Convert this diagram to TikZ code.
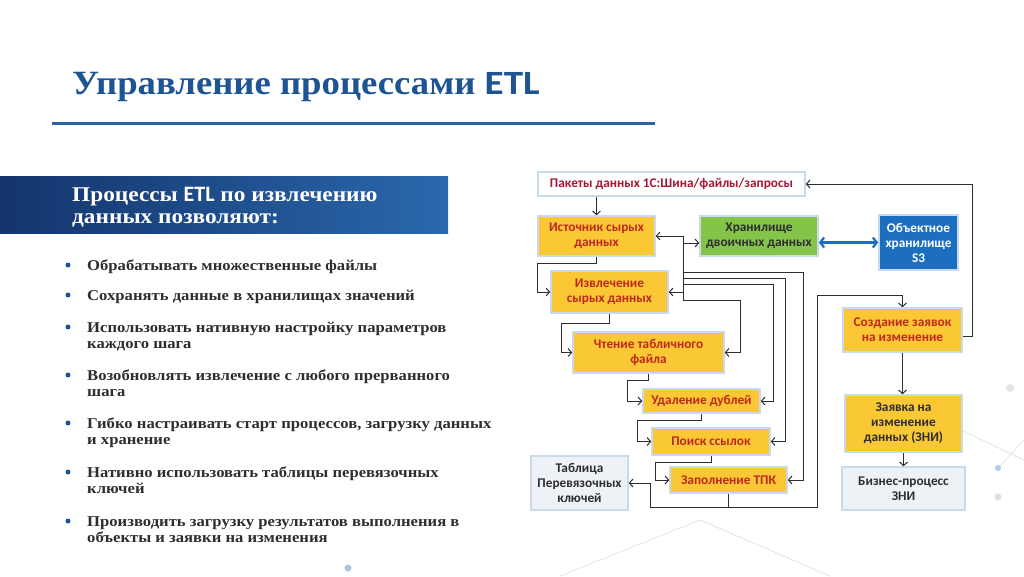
\documentclass[tikz,border=0pt]{standalone}
\usepackage{fontspec}
\setmainfont{Liberation Serif}[FakeStretch=1.11]
\newfontfamily\boxfont{Carlito}
\newfontfamily\ttlfont{Liberation Serif}[FakeStretch=1.08]
\newfontfamily\ttlsans{Carlito}[FakeStretch=1.15]
\usetikzlibrary{arrows.meta}
\usetikzlibrary{positioning}

\definecolor{ylw}{RGB}{250,200,52}
\definecolor{grn}{RGB}{132,196,72}
\definecolor{sblue}{RGB}{28,110,192}
\definecolor{lgray}{RGB}{238,241,246}
\definecolor{glow}{RGB}{200,218,236}
\definecolor{rtxt}{RGB}{190,40,30}
\definecolor{ptxt}{RGB}{170,20,55}
\definecolor{ttl}{RGB}{30,84,146}
\definecolor{uline}{RGB}{42,100,166}
\definecolor{bandl}{RGB}{20,52,108}
\definecolor{bandr}{RGB}{42,104,172}
\definecolor{btxt}{RGB}{45,45,50}
\definecolor{dkline}{RGB}{45,45,50}

\tikzstyle{blk}=[draw=glow, line width=1.6pt, align=center, inner sep=0pt,
                font=\boxfont\bfseries\fontsize{13.3}{15}\selectfont]
\tikzstyle{ybox}=[blk, fill=ylw, text=rtxt]
\tikzstyle{gbox}=[blk, fill=lgray, text=btxt]
\tikzstyle{arr}=[draw=dkline, line width=1pt,
                -{Straight Barb[length=3.5pt,width=8pt]}]
\tikzstyle{ln}=[draw=dkline, line width=1pt]
\tikzstyle{dbl}=[draw=sblue, line width=2.2pt,
                {Straight Barb[length=4pt,width=10pt]}-{Straight Barb[length=4pt,width=10pt]}]
\tikzstyle{bul}=[anchor=base west, align=left, inner sep=0pt, text=btxt,
                font=\bfseries\fontsize{15}{16.5}\selectfont]
\tikzstyle{dot}=[circle, fill=ttl, inner sep=0pt, minimum size=5pt]
\tikzstyle{bg}=[draw=gray!25, line width=0.6pt]

\begin{document}
\begin{tikzpicture}[x=1pt, y=-1pt]
  \path[use as bounding box, fill=white] (0,0) rectangle (1024,576);

  % faint background net
  \draw[bg] (560,576) -- (700,520) -- (830,576);
  \draw[bg] (940,420) -- (1024,460);
  \draw[bg] (998,468) -- (1024,440);
  \fill[gray!20] (1010,388) circle (4);
  \fill[gray!25] (998,497) circle (3.5);
  \fill[sblue!35] (998,468) circle (3);
  \fill[sblue!40] (348,568) circle (3.5);

  % title
  \node[anchor=base west, inner sep=0, text=ttl,
        font=\ttlfont\bfseries\fontsize{34}{36}\selectfont] (title) at (72,94)
        {Управление процессами {\ttlsans\fontsize{34}{36}\selectfont ETL}};
  \draw[draw=uline, line width=3pt] (52,123) -- (655,123);

  % banner
  \shade[left color=bandl, right color=bandr] (0,176) rectangle (448,233);
  \node[anchor=base west, align=left, inner sep=0, text=white,
        font=\bfseries\fontsize{21}{21.5}\selectfont] (head) at (72,223)
        {Процессы {\boxfont\fontsize{22}{21.5}\selectfont ETL} по извлечению\\данных позволяют:};

  % bullets (anchored at the last line)
  \node[bul] (b1) at (87,270) {Обрабатывать множественные файлы};
  \node[bul] (b2) at (87,300) {Сохранять данные в хранилищах значений};
  \node[bul] (b3) at (87,348.5) {Использовать нативную настройку параметров\\каждого шага};
  \node[bul] (b4) at (87,396.5) {Возобновлять извлечение с любого прерванного\\шага};
  \node[bul] (b5) at (87,444.5) {Гибко настраивать старт процессов, загрузку данных\\и хранение};
  \node[bul] (b6) at (87,493.5) {Нативно использовать таблицы перевязочных\\ключей};
  \node[bul] (b7) at (87,542.5) {Производить загрузку результатов выполнения в\\объекты и заявки на изменения};
  \foreach \y in {265,295,327,375,423,472,521}
    \node[dot] at (68,\y) {};

  % diagram boxes
  \node[blk, fill=white, text=ptxt, minimum width=267pt, minimum height=24pt]
        (pak) at (671.5,184) {Пакеты данных 1С:Шина/файлы/запросы};
  \node[ybox, minimum width=117pt, minimum height=40pt]
        (src) at (596.5,236) {Источник сырых\\данных};
  \node[blk, fill=grn, text=btxt, minimum width=118pt, minimum height=40pt]
        (hran) at (759,236) {Хранилище\\двоичных данных};
  \node[blk, fill=sblue, text=white, minimum width=79pt, minimum height=55pt]
        (s3) at (918.5,242.5) {Объектное\\хранилище\\S3};
  \node[ybox, minimum width=117pt, minimum height=42pt]
        (ext) at (609.5,292) {Извлечение\\сырых данных};
  \node[ybox, minimum width=151pt, minimum height=41pt]
        (read) at (648.5,352.5) {Чтение табличного\\файла};
  \node[ybox, minimum width=117pt, minimum height=24pt]
        (dedup) at (701.5,401) {Удаление дублей};
  \node[ybox, minimum width=118pt, minimum height=27pt]
        (links) at (711,441.5) {Поиск ссылок};
  \node[ybox, minimum width=117pt, minimum height=26pt]
        (tpk) at (728.5,480) {Заполнение ТПК};
  \node[gbox, minimum width=97pt, minimum height=54pt]
        (tab) at (579.5,483) {Таблица\\Перевязочных\\ключей};
  \node[ybox, minimum width=119pt, minimum height=44pt]
        (req) at (902.5,330) {Создание заявок\\на изменение};
  \node[ybox, text=btxt, minimum width=117pt, minimum height=57pt]
        (zni) at (903.5,423.5) {Заявка на\\изменение\\данных (ЗНИ)};
  \node[gbox, minimum width=123pt, minimum height=43pt]
        (biz) at (903.5,488.5) {Бизнес-процесс\\ЗНИ};

  % chain on the left
  \draw[arr] (src.north |- pak.south) -- (src.north);
  \draw[arr] (src.south) -- ++(0,7) -| (537,292) -- (ext.west);
  \draw[arr] (ext.south) -- ++(0,10) -| (561,352.5) -- (read.west);
  \draw[arr] (read.south) -- ++(0,7) -| (627,401) -- (dedup.west);
  \draw[arr] (dedup.south) -- ++(0,7) -| (637,441.5) -- (links.west);
  \draw[arr] (links.south) -- ++(0,7) -| (655,480) -- (tpk.west);

  % output of tpk
  \coordinate (j) at (728.5,507);
  \draw[ln] (tpk.south) -- (j);
  \draw[arr] (j) -| (650,483) -- (tab.east);
  \draw[arr] (j) -| (817,295) -| (req.north);

  % bus from the source
  \coordinate (bt) at (683,236);
  \coordinate (bb) at (683,300);
  \draw[ln] (bt) -- (bb);
  \draw[arr] (bt) -- (src.east);
  \draw[arr] (bt) -- (683,243) -- ([yshift=-7pt]hran.west);
  \draw[arr] (bt |- ext.east) -- (ext.east);
  \draw[arr] (bb) -| (740,352.5) -- (read.east);
  \draw[arr] (683,284) -| (773,401) -- (dedup.east);
  \draw[arr] (683,278) -| (785,441.5) -- (links.east);
  \draw[arr] (683,272) -| (803,480) -- (tpk.east);

  \draw[dbl] (hran.east |- s3.west) -- (s3.west);

  % right column
  \draw[arr] ([yshift=-6pt]req.east) -| (972,184) -- (pak.east);
  \draw[arr] (req.south) -- (req.south |- zni.north);
  \draw[arr] (zni.south) -- (zni.south |- biz.north);
\end{tikzpicture}
\end{document}
